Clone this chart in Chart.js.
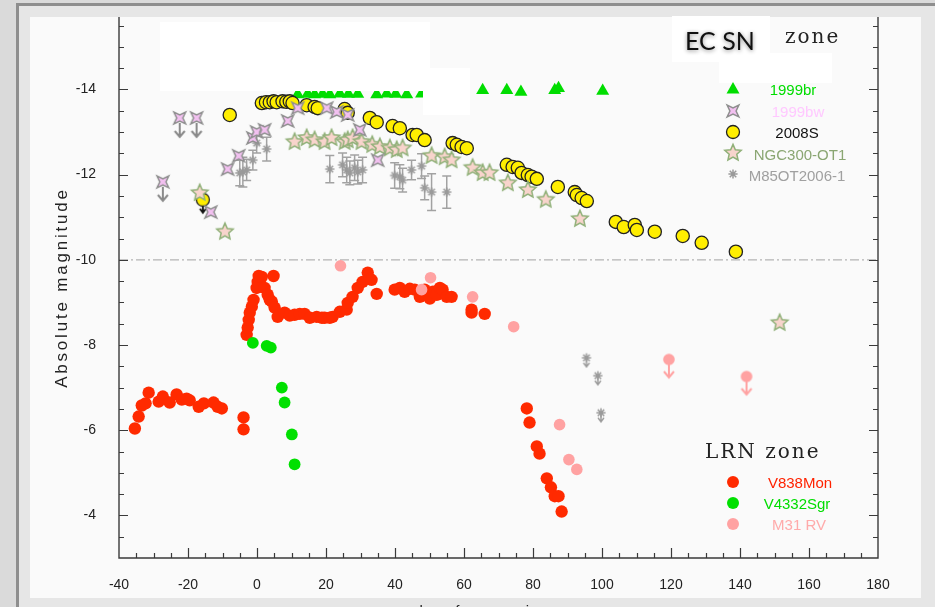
<!DOCTYPE html>
<html>
<head>
<meta charset="utf-8">
<script src="https://cdn.jsdelivr.net/npm/chart.js@4.4.1/dist/chart.umd.min.js"></script>
<style>
  html, body { margin: 0; padding: 0; background: #dcdcdc; overflow: hidden; }
  canvas { display: block; }
</style>
</head>
<body>
<canvas id="lc" width="935" height="607"></canvas>
<script>
// ---- light-curve data: [days from maximum, absolute magnitude] ----
const sn1999br = [[11.8,-13.88],[14.7,-13.89],[16.7,-13.88],[19.0,-13.89],[21.1,-13.88],[24.0,-13.90],[26.5,-13.89],[29.2,-13.89],[34.7,-13.88],[37.6,-13.90],[40.2,-13.89],[43.4,-13.88],[47.7,-13.90],[65.4,-13.98],[72.4,-13.98],[76.5,-13.94],[86.3,-13.98],[87.4,-14.03],[100.2,-13.96]];
const sn1999bw = [[-13.4,-11.12],[-8.5,-12.13],[-5.3,-12.44],[-1.2,-12.86],[-0.1,-13.00],[2.2,-13.05],[8.9,-13.26],[11.8,-13.56],[20.2,-13.56],[23.1,-13.47],[26.3,-13.40],[29.8,-13.05],[35.0,-12.34]];
const sn1999bwLimits = [[-27.3,-11.83],[-22.4,-13.33],[-17.5,-13.33]];
const sn2008S = [[-7.9,-13.40],[1.4,-13.68],[2.6,-13.70],[3.7,-13.70],[4.8,-13.72],[5.7,-13.70],[7.4,-13.72],[8.5,-13.71],[9.5,-13.72],[10.3,-13.68],[14.4,-13.63],[16.7,-13.59],[17.6,-13.56],[25.4,-13.54],[26.3,-13.45],[32.7,-13.33],[34.7,-13.23],[39.3,-13.14],[41.4,-13.09],[45.1,-12.93],[46.3,-12.93],[48.6,-12.81],[56.7,-12.74],[57.9,-12.70],[59.3,-12.65],[60.8,-12.62],[72.4,-12.23],[74.1,-12.18],[75.6,-12.16],[76.7,-12.04],[78.5,-11.99],[79.6,-11.95],[81.1,-11.90],[87.2,-11.71],[92.1,-11.59],[92.7,-11.52],[94.1,-11.45],[95.6,-11.38],[104.0,-10.89],[106.3,-10.77],[109.5,-10.82],[110.1,-10.70],[115.3,-10.66],[123.4,-10.56],[128.9,-10.40],[138.8,-10.19]];
const sn2008SLimits = [[-15.7,-11.41]];
const ngc300OT1 = [[-16.6,-11.57],[-9.3,-10.66],[10.9,-12.77],[14.4,-12.86],[16.7,-12.81],[19.6,-12.77],[21.6,-12.86],[25.4,-12.77],[26.3,-12.81],[27.7,-12.86],[30.3,-12.77],[33.4,-12.70],[35.6,-12.65],[38.5,-12.62],[40.5,-12.58],[42.2,-12.62],[50.6,-12.44],[54.4,-12.41],[56.4,-12.34],[62.5,-12.16],[65.4,-12.04],[67.4,-12.04],[72.7,-11.80],[78.5,-11.64],[83.7,-11.41],[93.6,-10.96],[151.5,-8.52]];
// [day, mag, error]
const m85OT2006 = [[-5.0,-12.04,0.30],[-4.1,-12.06,0.35],[-3.0,-12.11,0.25],[-1.2,-12.34,0.23],[-0.1,-12.74,0.23],[2.8,-12.60,0.28],[21.1,-12.13,0.32],[24.8,-12.23,0.28],[26.0,-12.11,0.30],[26.9,-12.04,0.28],[28.3,-12.16,0.30],[29.2,-12.06,0.28],[30.6,-12.11,0.30],[39.9,-11.98,0.30],[41.4,-11.95,0.28],[42.2,-11.87,0.28],[44.8,-12.11,0.23],[47.7,-12.20,0.29],[48.6,-11.69,0.28],[50.6,-11.59,0.43],[55.0,-11.59,0.38]];
const m85OT2006Limits = [[95.5,-7.70],[98.8,-7.28],[99.7,-6.41]];
const v838Mon = [[-35.4,-6.04],[-34.3,-6.32],[-33.4,-6.58],[-32.3,-6.63],[-31.4,-6.88],[-28.5,-6.67],[-27.3,-6.79],[-25.3,-6.65],[-23.3,-6.84],[-21.8,-6.72],[-20.4,-6.74],[-19.5,-6.70],[-16.9,-6.55],[-15.4,-6.63],[-12.6,-6.65],[-11.4,-6.55],[-10.2,-6.51],[-3.9,-6.30],[-3.9,-6.02],
  [-3.0,-8.24],[-2.7,-8.41],[-2.4,-8.59],[-2.1,-8.76],[-1.5,-8.90],[-1.0,-9.06],[-0.1,-9.34],[0.2,-9.48],[0.8,-9.41],[1.4,-9.60],[0.5,-9.62],[2.2,-9.34],[3.1,-9.18],[3.7,-9.06],[4.3,-9.02],[5.1,-8.88],[6.0,-8.66],[4.8,-9.62],[8.0,-8.76],[9.5,-8.69],[10.9,-8.71],[12.4,-8.73],[13.8,-8.73],[15.3,-8.64],[17.3,-8.66],[18.8,-8.64],[19.6,-8.64],[21.1,-8.64],[21.9,-8.66],[24.0,-8.78],[26.0,-8.83],[26.3,-8.99],[27.7,-9.13],[29.2,-9.34],[30.6,-9.48],[32.1,-9.70],[32.7,-9.55],[33.2,-9.53],[34.7,-9.20],
  [39.9,-9.30],[41.4,-9.34],[42.8,-9.25],[44.3,-9.32],[45.7,-9.30],[47.2,-9.13],[48.6,-9.30],[50.1,-9.09],[51.0,-9.25],[52.1,-9.18],[53.0,-9.34],[53.8,-9.30],[55.0,-9.13],[56.4,-9.13],[62.2,-8.83],[62.2,-8.76],[66.0,-8.73],
  [78.2,-6.51],[79.0,-6.18],[81.1,-5.62],[81.9,-5.45],[84.0,-4.87],[85.2,-4.66],[86.3,-4.45],[87.4,-4.45],[88.3,-4.09]];
const v4332Sgr = [[-1.2,-8.05],[2.8,-7.98],[4.0,-7.94],[7.2,-7.00],[8.0,-6.65],[10.1,-5.90],[10.9,-5.20]];
const m31RV = [[24.2,-9.86],[47.7,-9.30],[50.3,-9.58],[62.5,-9.13],[74.4,-8.43],[87.7,-6.13],[90.4,-5.31],[92.7,-5.08]];
const m31RVLimits = [[119.4,-7.66],[141.9,-7.26]];

// ---- axes ----
const xTicks = [-40, -20, 0, 20, 40, 60, 80, 100, 120, 140, 160, 180];
const yTicks = [-14, -12, -10, -8, -6, -4];
const xRange = [-40, 180];
const yRange = [-15.7, -3];
const divideLevel = -10;

// ---- colours ----
const C = {
  br: '#00dd00', bwFill: '#f2c0f0', bwEdge: '#909090', bwText: '#ffc8ff',
  s08: '#ffee00', ngcFill: '#f8d4cc', ngcEdge: '#90b078', ngcText: '#8aa672',
  m85: '#9a9a9a', mon: '#ff2a00', sgr: '#00e000', m31: '#ffa2a2'
};

const pts = arr => arr.map(p => ({ x: p[0], y: p[1], e: p[2] || 0 }));

// ---- marker glyphs ----
function glyph(size, draw) {
  const c = document.createElement('canvas');
  c.width = size; c.height = size;
  const g = c.getContext('2d');
  draw(g, size / 2, size / 2);
  return c;
}
function star4(g, cx, cy, R, r) {
  g.beginPath();
  for (let i = 0; i < 8; i++) {
    const a = Math.PI / 4 + i * Math.PI / 4;
    const rr = i % 2 === 0 ? R : r;
    const px = cx + Math.cos(a) * rr, py = cy + Math.sin(a) * rr;
    i ? g.lineTo(px, py) : g.moveTo(px, py);
  }
  g.closePath();
  g.fillStyle = C.bwFill; g.fill();
  g.strokeStyle = C.bwEdge; g.lineWidth = 1.5; g.stroke();
}
function star5(g, cx, cy, R, r) {
  g.beginPath();
  for (let i = 0; i < 10; i++) {
    const a = -Math.PI / 2 + i * Math.PI / 5;
    const rr = i % 2 === 0 ? R : r;
    const px = cx + Math.cos(a) * rr, py = cy + Math.sin(a) * rr;
    i ? g.lineTo(px, py) : g.moveTo(px, py);
  }
  g.closePath();
  g.fillStyle = C.ngcFill; g.fill();
  g.strokeStyle = C.ngcEdge; g.lineWidth = 1.5; g.stroke();
}
function asterisk(g, cx, cy, r) {
  g.strokeStyle = C.m85; g.lineWidth = 1.5;
  g.beginPath();
  for (let i = 0; i < 4; i++) {
    const a = i * Math.PI / 4;
    g.moveTo(cx - Math.cos(a) * r, cy - Math.sin(a) * r);
    g.lineTo(cx + Math.cos(a) * r, cy + Math.sin(a) * r);
  }
  g.stroke();
}
function disc(g, cx, cy, r, fill, edge) {
  g.beginPath(); g.arc(cx, cy, r, 0, Math.PI * 2);
  g.fillStyle = fill; g.fill();
  if (edge) { g.strokeStyle = edge; g.lineWidth = 1.3; g.stroke(); }
}
function arrowDown(g, cx, y0, y1, col, w, head) {
  g.strokeStyle = col; g.lineWidth = w;
  g.beginPath();
  g.moveTo(cx, y0); g.lineTo(cx, y1);
  g.moveTo(cx - head, y1 - head - 1); g.lineTo(cx, y1); g.lineTo(cx + head, y1 - head - 1);
  g.stroke();
}

const gStar4 = glyph(22, (g, x, y) => star4(g, x, y, 8.3, 3.1));
const gStar4Lim = glyph(44, (g, x, y) => { arrowDown(g, x, y + 5, y + 19, '#8a8a8a', 2, 5); star4(g, x, y, 8.3, 3.1); });
const gStar5 = glyph(22, (g, x, y) => star5(g, x, y, 8.6, 4));
const gAst = glyph(14, (g, x, y) => asterisk(g, x, y, 4.6));
const gAstLim = glyph(26, (g, x, y) => { asterisk(g, x, y, 4.6); arrowDown(g, x, y + 2, y + 9, C.m85, 1.4, 3); });
const gM31Lim = glyph(42, (g, x, y) => { arrowDown(g, x, y + 4, y + 18, C.m31, 2, 5); disc(g, x, y, 5.8, C.m31); });
const g08Lim = glyph(34, (g, x, y) => { arrowDown(g, x, y + 4, y + 13, '#111', 1.8, 3); disc(g, x, y, 6.5, C.s08, '#222'); });

// ---- page background, frame and panel ----
const backdrop = {
  id: 'backdrop',
  beforeDraw(chart) {
    const ctx = chart.ctx;
    ctx.save();
    ctx.fillStyle = '#dadada'; ctx.fillRect(0, 0, 935, 607);
    ctx.fillStyle = '#8e8e8e'; ctx.fillRect(16, 3, 940, 620);
    ctx.fillStyle = '#e6e6e6'; ctx.fillRect(19, 6, 940, 620);
    ctx.fillStyle = '#fafafa'; ctx.fillRect(30, 17, 891, 581);
    ctx.restore();
  }
};

// ---- axis lines, inward tick marks, axis titles ----
const frameAxes = {
  id: 'frameAxes',
  afterDraw(chart) {
    const { ctx, chartArea: a, scales: { x, y } } = chart;
    ctx.save();
    ctx.strokeStyle = '#3a3a3a'; ctx.lineWidth = 1.4;
    ctx.beginPath();
    ctx.moveTo(a.left, a.top); ctx.lineTo(a.left, a.bottom); ctx.lineTo(a.right, a.bottom); ctx.lineTo(a.right, a.top);
    ctx.stroke();
    ctx.lineWidth = 1.2;
    ctx.beginPath();
    for (let v = -15.5; v <= -3.25; v += 0.5) {
      const py = Math.round(y.getPixelForValue(v)) + 0.5;
      const len = yTicks.includes(v) ? 9 : 5;
      ctx.moveTo(a.left, py); ctx.lineTo(a.left + len, py);
      ctx.moveTo(a.right, py); ctx.lineTo(a.right - len, py);
    }
    for (let v = xRange[0] + 5; v < xRange[1]; v += 5) {
      const px = Math.round(x.getPixelForValue(v)) + 0.5;
      const len = xTicks.includes(v) ? 10 : 5;
      ctx.moveTo(px, a.bottom); ctx.lineTo(px, a.bottom - len);
    }
    ctx.stroke();

    ctx.fillStyle = '#222';
    ctx.font = '17px "Liberation Sans", Arial, sans-serif';
    ctx.letterSpacing = '2.8px';
    ctx.textAlign = 'center'; ctx.textBaseline = 'middle';
    ctx.translate(62, (a.top + a.bottom) / 2);
    ctx.rotate(-Math.PI / 2);
    ctx.fillText('Absolute magnitude', 0, 0);
    ctx.restore();

    ctx.save();
    ctx.fillStyle = '#222';
    ctx.font = '15px "Liberation Sans", Arial, sans-serif';
    ctx.letterSpacing = '1px';
    ctx.textAlign = 'center'; ctx.textBaseline = 'alphabetic';
    ctx.fillText('days from maximum', (a.left + a.right) / 2 - 8, 616);
    ctx.restore();
  }
};

// ---- photometric error bars ----
const errorBars = {
  id: 'errorBars',
  beforeDatasetsDraw(chart) {
    const { ctx, scales: { x, y } } = chart;
    chart.data.datasets.forEach(ds => {
      if (!ds.errorBars) return;
      ctx.save();
      ctx.strokeStyle = '#a2a2a2'; ctx.lineWidth = 1.5;
      ctx.beginPath();
      ds.data.forEach(p => {
        if (!p.e) return;
        const px = x.getPixelForValue(p.x);
        const y0 = y.getPixelForValue(p.y - p.e), y1 = y.getPixelForValue(p.y + p.e);
        ctx.moveTo(px, y0); ctx.lineTo(px, y1);
        ctx.moveTo(px - 4.5, y0); ctx.lineTo(px + 4.5, y0);
        ctx.moveTo(px - 4.5, y1); ctx.lineTo(px + 4.5, y1);
      });
      ctx.stroke();
      ctx.restore();
    });
  }
};

// ---- masks, zone captions and key ----
const keys = {
  id: 'keys',
  afterDatasetsDraw(chart) {
    const ctx = chart.ctx;
    ctx.save();
    ctx.fillStyle = '#ffffff';
    ctx.fillRect(160, 22, 270, 69);
    ctx.fillRect(423, 68, 47, 47);
    ctx.fillRect(719, 53, 113, 30);
    ctx.fillRect(672, 16, 98, 46);

    ctx.fillStyle = '#111';
    ctx.font = '25px Lato, "Open Sans", sans-serif';
    ctx.textAlign = 'left'; ctx.textBaseline = 'middle';
    ctx.shadowColor = 'rgba(0,0,0,0.45)'; ctx.shadowBlur = 4; ctx.shadowOffsetY = 1;
    ctx.fillText('EC SN', 685, 42);
    ctx.shadowColor = 'transparent'; ctx.shadowBlur = 0; ctx.shadowOffsetY = 0;

    ctx.fillStyle = '#222';
    ctx.font = '20px "DejaVu Serif", serif';
    ctx.letterSpacing = '2px';
    ctx.fillText('zone', 785, 38);
    ctx.fillText('LRN zone', 705, 453);
    ctx.letterSpacing = '0px';

    const sx = 733;
    // upper key symbols
    ctx.beginPath();
    ctx.moveTo(sx, 82); ctx.lineTo(sx + 6.5, 93.5); ctx.lineTo(sx - 6.5, 93.5); ctx.closePath();
    ctx.fillStyle = C.br; ctx.fill();
    ctx.drawImage(gStar4, sx - 11, 111 - 11);
    disc(ctx, sx, 132, 6.5, C.s08, '#222');
    ctx.drawImage(gStar5, sx - 11, 153 - 11);
    ctx.drawImage(gAst, sx - 7, 174 - 7);
    // lower key symbols
    disc(ctx, sx, 482, 6, C.mon);
    disc(ctx, sx, 503, 6, C.sgr);
    disc(ctx, sx, 524, 6, C.m31);

    ctx.font = '15px "Liberation Sans", Arial, sans-serif';
    ctx.textAlign = 'center'; ctx.textBaseline = 'middle';
    const rows = [
      ['1999br', C.br, 793, 91], ['1999bw', C.bwText, 798, 113], ['2008S', '#111', 797, 134],
      ['NGC300-OT1', C.ngcText, 800, 156], ['M85OT2006-1', '#a0a0a0', 797, 177],
      ['V838Mon', '#ff2200', 800, 484], ['V4332Sgr', '#00dd00', 797, 505], ['M31 RV', '#ffaaaa', 799, 526]
    ];
    rows.forEach(([t, col, x, y]) => { ctx.fillStyle = col; ctx.fillText(t, x, y); });
    ctx.restore();
  }
};

const circle = (col, r, edge) => ({
  pointStyle: 'circle', pointRadius: r, backgroundColor: col,
  borderColor: edge || col, borderWidth: edge ? 1.3 : 0
});

new Chart(document.getElementById('lc'), {
  type: 'scatter',
  data: {
    datasets: [
      { label: 'M31 RV limits', data: pts(m31RVLimits), pointStyle: gM31Lim },
      { label: 'M31 RV', data: pts(m31RV), ...circle(C.m31, 5.8) },
      { label: 'V4332Sgr', data: pts(v4332Sgr), ...circle(C.sgr, 5.9) },
      { label: 'V838Mon', data: pts(v838Mon), ...circle(C.mon, 6.2) },
      { label: '1999bw', data: pts(sn1999bw), pointStyle: gStar4 },
      { label: '1999bw limits', data: pts(sn1999bwLimits), pointStyle: gStar4Lim },
      { label: 'NGC300-OT1', data: pts(ngc300OT1), pointStyle: gStar5 },
      { label: '2008S', data: pts(sn2008S), ...circle(C.s08, 6.6, '#222') },
      { label: '2008S limits', data: pts(sn2008SLimits), pointStyle: g08Lim },
      { label: 'M85OT2006-1', data: pts(m85OT2006), pointStyle: gAst, errorBars: true },
      { label: 'M85OT2006-1 limits', data: pts(m85OT2006Limits), pointStyle: gAstLim },
      { label: '1999br', data: pts(sn1999br), pointStyle: 'triangle', pointRadius: 7.5, backgroundColor: C.br, borderColor: C.br, borderWidth: 0 },
      { type: 'line', label: 'divide', data: [{ x: xRange[0], y: divideLevel }, { x: xRange[1], y: divideLevel }],
        borderColor: '#b4b4b4', borderWidth: 1.2, borderDash: [9, 3, 2, 3], pointRadius: 0, fill: false }
    ]
  },
  options: {
    responsive: false,
    devicePixelRatio: 1,
    animation: false,
    events: [],
    layout: { padding: { left: 0, top: 17, right: 57, bottom: 0 } },
    plugins: { legend: { display: false }, tooltip: { enabled: false } },
    scales: {
      x: {
        type: 'linear', min: xRange[0], max: xRange[1],
        afterBuildTicks: s => { s.ticks = xTicks.map(v => ({ value: v })); },
        afterFit: s => { s.height = 49; s.paddingLeft = 0; s.paddingRight = 0; },
        grid: { display: false }, border: { display: false },
        ticks: { padding: 11, color: '#222', font: { family: '"Liberation Sans", Arial, sans-serif', size: 14 }, maxRotation: 0 }
      },
      y: {
        type: 'linear', reverse: true, min: yRange[0], max: yRange[1],
        afterBuildTicks: s => { s.ticks = yTicks.map(v => ({ value: v })); },
        afterFit: s => { s.width = 119; s.paddingTop = 0; s.paddingBottom = 0; },
        grid: { display: false }, border: { display: false },
        ticks: { padding: 15, color: '#222', font: { family: '"Liberation Sans", Arial, sans-serif', size: 14 } }
      }
    }
  },
  plugins: [backdrop, errorBars, frameAxes, keys]
});
</script>
</body>
</html>
